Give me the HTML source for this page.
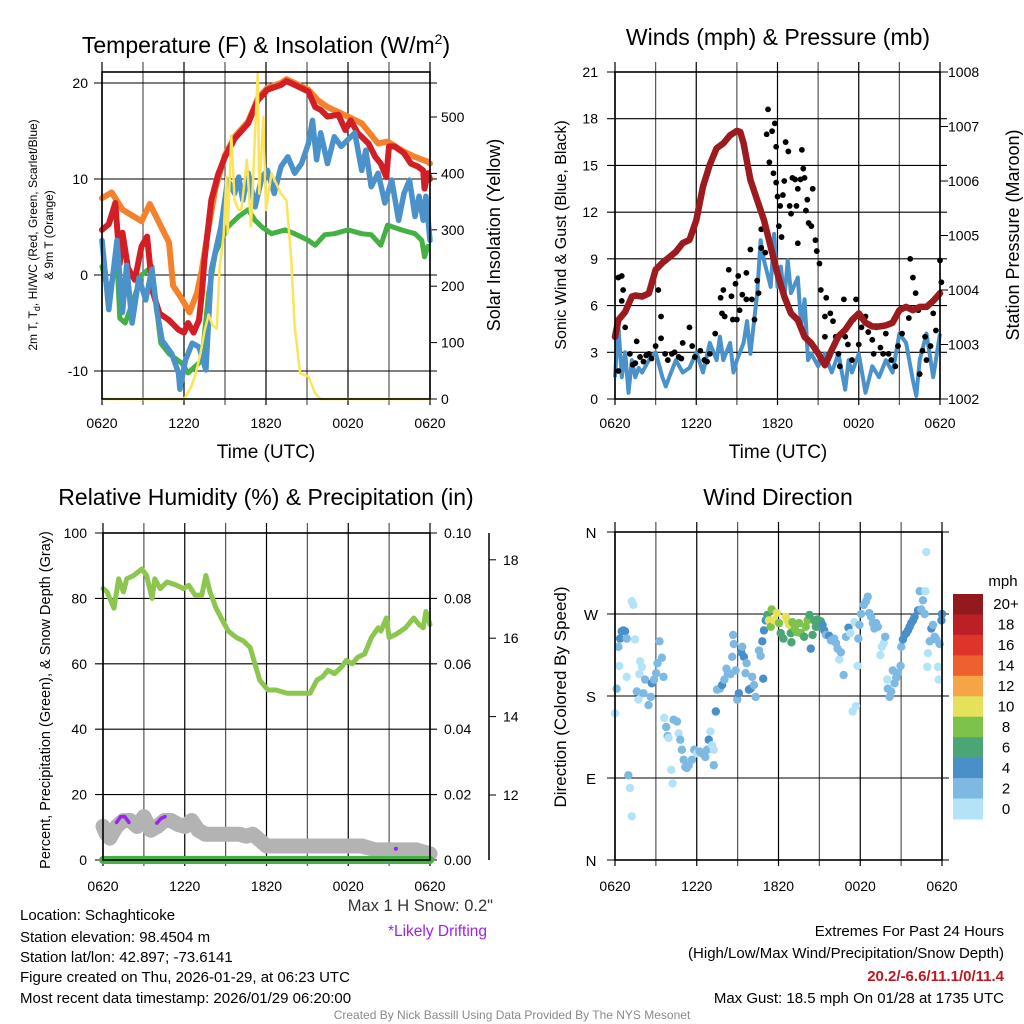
<!DOCTYPE html>
<html><head><meta charset="utf-8">
<style>
html,body{margin:0;padding:0;background:#fff;}
svg{display:block;font-family:"Liberation Sans",Arial,sans-serif;}
</style></head>
<body>
<svg id="root" width="1024" height="1024" viewBox="0 0 1024 1024" xmlns="http://www.w3.org/2000/svg">
<rect width="1024" height="1024" fill="#fff"/>
<!-- Titles -->
<text x="266" y="53" font-size="23" text-anchor="middle">Temperature (F) &amp; Insolation (W/m<tspan font-size="14" dy="-9">2</tspan><tspan dy="9">)</tspan></text>
<text x="778" y="45" font-size="23" text-anchor="middle">Winds (mph) &amp; Pressure (mb)</text>
<text x="266" y="505" font-size="23" text-anchor="middle">Relative Humidity (%) &amp; Precipitation (in)</text>
<text x="778" y="505" font-size="23" text-anchor="middle">Wind Direction</text>
<!-- axis titles -->
<text x="266" y="458" font-size="19" text-anchor="middle">Time (UTC)</text>
<text x="778" y="458" font-size="19" text-anchor="middle">Time (UTC)</text>
<text transform="translate(37,235) rotate(-90)" font-size="12" text-anchor="middle">2m T, T<tspan font-size="9" dy="3">d</tspan><tspan dy="-3">, HI/WC (Red, Green, Scarlet/Blue)</tspan></text>
<text transform="translate(53,235) rotate(-90)" font-size="12" text-anchor="middle">&amp; 9m T (Orange)</text>
<text transform="translate(500,235) rotate(-90)" font-size="18" text-anchor="middle">Solar Insolation (Yellow)</text>
<text transform="translate(566,235) rotate(-90)" font-size="16" text-anchor="middle">Sonic Wind &amp; Gust (Blue, Black)</text>
<text transform="translate(1019,235) rotate(-90)" font-size="18" text-anchor="middle">Station Pressure (Maroon)</text>
<text transform="translate(50,700) rotate(-90)" font-size="14.5" text-anchor="middle">Percent, Precipitation (Green), &amp; Snow Depth (Gray)</text>
<text transform="translate(566,697) rotate(-90)" font-size="17" text-anchor="middle">Direction (Colored By Speed)</text>
<!-- footer text -->
<g font-size="15">
<text x="20" y="920">Location: Schaghticoke</text>
<text x="20" y="942">Station elevation: 98.4504 m</text>
<text x="20" y="962">Station lat/lon: 42.897; -73.6141</text>
<text x="20" y="982">Figure created on Thu, 2026-01-29, at 06:23 UTC</text>
<text x="20" y="1003">Most recent data timestamp: 2026/01/29 06:20:00</text>
</g>
<text x="493" y="911" font-size="16.5" text-anchor="end" fill="#333">Max 1 H Snow: 0.2"</text>
<text x="487" y="936" font-size="15.5" text-anchor="end" fill="#a020f0">*Likely Drifting</text>
<g font-size="15" text-anchor="end">
<text x="1004" y="936">Extremes For Past 24 Hours</text>
<text x="1004" y="958">(High/Low/Max Wind/Precipitation/Snow Depth)</text>
<text x="1004" y="981" font-weight="bold" fill="#c0161f">20.2/-6.6/11.1/0/11.4</text>
<text x="1004" y="1003">Max Gust: 18.5 mph On 01/28 at 1735 UTC</text>
</g>
<text x="512" y="1019" font-size="12" text-anchor="middle" fill="#8a8a8a">Created By Nick Bassill Using Data Provided By The NYS Mesonet</text>
<text x="1003" y="586" font-size="15" text-anchor="middle">mph</text>
</svg>
<script>
// ---------- Panel 1 data ----------
const xTickLabels = ["0620","1220","1820","0020","0620"];
const tempTicks = [20,10,0,-10];
const solarTicks = [0,100,200,300,400,500];
const redHours = [0,0.5,0.97,1.3,1.5,1.9,2.4,2.9,3.3,3.7,4.2,4.9,5.6,6,6.3,6.7,7.1,7.3,7.5,8,8.5,9,9.7,10.7,11.4,12.1,13.1,13.5,14.1,15.1,15.6,16,16.5,17.3,17.8,18.2,18.7,19.5,20,20.4,20.8,21,21.4,22.1,22.6,23.1,23.5,23.6,23.85,24];
const redTemps = [4.7,5.3,7.5,1.2,4.4,0.7,-0.5,3.0,4.0,-1.7,-4,-4.7,-5.7,-6,-5,-6,-4.7,-2,1.6,7.8,10.5,12.3,14.2,15.8,18.2,19.3,19.8,20.2,19.8,19.1,17.5,17.2,16.5,16.7,15.1,16.1,14.8,13.7,12.3,11.6,10.2,13.4,13.4,12.7,11.6,11.3,10.9,9,10.6,10];
const orangeHours = [0,0.7,1.5,2.9,3.5,4.3,4.9,5.2,5.85,6.4,6.95,7.3,7.8,8.3,9,9.7,10.7,11.4,12.1,13.1,13.5,14.1,15.1,15.8,16.5,18,19,20.2,20.9,21.9,22.9,23.85,24];
const orangeTemps = [8,8.6,6.8,5.6,7.4,5.1,3.4,-1.1,-2.5,-3.9,-1.9,0.5,5,9,12.5,14.4,16,18.4,19.5,20,20.4,20,19.3,18.2,17.5,16.5,15.8,13.7,13.9,13,12.3,11.8,11.6];
const greenHours = [0,0.5,1.1,1.3,1.7,2.2,2.9,3.65,4,4.3,4.9,5.85,6.3,7.3,7.8,8.3,9.2,10,10.7,11.2,11.7,12.4,13.4,14.1,15.1,15.6,16.3,17,18,19,19.7,20.4,20.9,21.9,22.9,23.4,23.6,23.85];
const greenTemps = [0.9,-1.9,1.5,-4.5,-5,-3,0,0.9,-3.6,-7.1,-8.2,-9.2,-10.2,-8.9,-1.9,2.3,5,6.1,6.8,5.7,5,4.3,4.7,4.3,3.6,3.1,4.2,4.3,4.7,4.3,4.2,3.1,5.2,4.7,4.3,3.6,1.9,3];
const blueHours = [0,0.5,1.1,1.5,1.8,2.2,2.7,3.2,3.65,4,4.4,5.1,5.6,5.7,6.1,6.6,7.1,7.6,8,8.7,9.2,9.7,10,10.3,10.7,11.2,11.7,12.1,12.6,13.1,13.6,14.1,14.6,15.1,15.4,15.7,16,16.5,17,17.5,18,18.5,19,19.3,19.7,20.2,20.7,21.2,21.7,22.1,22.5,22.9,23.2,23.5,23.7,24];
const blueTemps = [3.6,-3.6,3.6,-3.9,1,-5,-0.3,-2.6,0.6,-3.6,-6.8,-8.2,-10.2,-11.9,-8.9,-7.1,-7.5,-9.9,0.5,5,9.9,8.5,10.2,7.8,10.6,7.1,10.2,10.9,8.5,11.3,12.3,10.6,11.6,13.7,16.1,12,14.8,11.6,14.4,13.4,14.1,14.8,10.9,13,9.2,10.6,7.5,9.9,5.7,8.5,9.9,6.1,8.2,5.7,8.2,3.6];
const solarHours = [0,6.0,6.5,6.8,7.2,7.5,7.8,8.1,8.4,8.6,8.9,9.1,9.2,9.46,9.7,10.0,10.2,10.6,10.9,11.4,11.5,11.8,12.0,12.4,13.1,13.5,13.85,14.1,14.5,15.1,15.6,16,24];
const solarValues = [0,0,20,40,80,120,150,130,125,230,290,394,294,467,352,335,336,424,306,580,364,500,335,400,364,352,246,128,45,40,10,0,0];
// ---------- Panel 2 data ----------
const windTicks = [0,3,6,9,12,15,18,21];
const pressTicks = [1002,1003,1004,1005,1006,1007,1008];
const pressHours = [0,0.25,0.75,1.25,1.5,2,2.5,3,3.5,4,4.5,5,5.5,6,6.5,7,7.5,8,8.5,9,9.25,9.5,10,10.5,11,11.5,12,12.5,13,13.5,14,14.5,15,15.5,15.75,16,16.5,17,17.5,18,18.5,19,19.5,20,20.5,21,21.5,22,22.5,23,23.5,24];
const pressValues = [1003.14,1003.45,1003.6,1003.88,1003.9,1003.88,1003.94,1004.37,1004.5,1004.6,1004.7,1004.86,1004.92,1005.28,1005.9,1006.3,1006.6,1006.69,1006.84,1006.92,1006.9,1006.69,1006.02,1005.65,1005.28,1004.79,1004.3,1003.88,1003.57,1003.45,1003.14,1003.02,1002.84,1002.62,1002.75,1002.9,1003.15,1003.27,1003.45,1003.57,1003.4,1003.33,1003.33,1003.35,1003.4,1003.63,1003.69,1003.63,1003.69,1003.69,1003.8,1003.94];
const sonicHours = [0,0.25,0.5,0.75,1,1.25,1.5,1.75,2,2.5,3,3.5,3.75,4,4.5,5,5.5,6,6.5,7,7.5,7.75,8,8.5,8.75,9,9.5,9.75,10,10.5,10.75,11,11.5,11.75,12,12.25,12.5,12.75,13,13.5,13.75,14,14.25,14.5,15,15.5,16,16.5,17,17.25,17.5,18,18.5,19,19.5,20,20.5,21,21.5,22,22.25,22.5,23,23.5,24];
const sonicSpeeds = [1.4,4.7,1.4,3,0.4,2.5,1.4,2,1.7,2.5,3,1.4,0.8,1.4,2.5,1.7,2,3,1.7,3.6,2.5,4,2.5,3.6,1.7,2.5,3.6,5,2.9,6.8,10.2,8.9,7.2,10.6,7.2,8.5,6.4,8.9,6.8,7.8,4.7,6.4,2.5,2.9,2.1,2.9,1.7,2.9,0.6,2.5,1.7,2.9,0.4,2.1,1.4,2.5,1.7,4.2,3.6,1.2,0.2,2.5,4.2,1.4,4.2];
const gustHours = [0.25,0.5,0.6,0.5,0.75,0.25,1.1,1.6,1.5,1.85,2.1,2.5,2.7,3.0,3.2,3.4,3.4,3.7,3.9,4.2,4.4,4.7,5.0,5.5,5.7,5.9,6.3,6.6,7.0,7.4,7.8,7.9,8.0,8.1,8.4,8.6,8.7,8.9,9.0,9.1,9.2,9.4,9.7,9.7,10.0,10.1,10.3,10.5,10.6,10.8,10.8,11.1,11.2,11.3,11.4,11.6,11.8,11.7,11.9,11.9,12.0,12.1,12.2,12.3,12.4,12.5,12.6,12.8,12.9,13.0,13.1,13.3,13.4,13.5,13.5,13.7,13.8,13.9,14.0,14.1,14.2,14.3,14.5,14.6,14.8,14.9,15.1,15.2,15.5,15.5,15.6,15.9,16.1,16.3,16.5,16.6,16.9,17.0,17.2,17.5,17.6,17.8,18.0,18.2,18.5,18.7,19.0,19.1,19.3,19.6,19.8,20.0,20.2,20.4,20.7,20.9,21.2,21.4,21.7,21.8,22.0,22.2,22.4,22.7,22.9,23.0,23.3,23.5,23.7,24.0,24.1,1.3,2.3,4.9,6.8,22.5];
const gustSpeeds = [7.8,7.9,7.0,6.3,4.6,1.8,2.9,3.7,2.3,2.7,2.4,2.9,2.6,3.4,7.0,5.3,3.9,2.9,2.5,2.9,3.0,2.7,3.6,4.6,3.4,2.7,3.1,2.5,2.9,4.2,6.5,5.5,7.0,5.3,8.3,6.6,5.1,7.4,5.1,7.9,5.7,6.7,8.1,6.4,9.6,6.4,5.1,7.6,6.8,9.7,10.9,9.4,17.0,18.6,15.2,17.2,17.7,14.5,16.2,13.9,13.0,11.1,12.4,10.4,13.1,14.0,16.5,15.9,12.4,11.9,14.2,14.1,12.4,13.5,10.0,14.1,16.0,14.8,14.2,12.1,12.8,11.3,11.1,13.5,10.2,9.5,8.7,7.0,5.3,4.0,6.5,5.5,5.0,4.0,2.9,2.1,6.4,4.0,3.5,2.5,5.1,6.4,3.5,4.6,5.3,4.3,3.8,2.9,4.6,3.3,2.9,4.2,2.9,2.5,2.1,3.4,4.2,5.9,5.2,9.0,7.8,6.8,5.7,3.1,4.0,2.5,3.4,5.5,4.4,8.9,7.5,2.2,2.8,2.6,2.4,1.6];
// ---------- Panel 3 data ----------
const rhTicks = [0,20,40,60,80,100];
const precipTicks = ["0.00","0.02","0.04","0.06","0.08","0.10"];
const snowTicks = [12,14,16,18];
const rhHours = [0,0.3,0.8,1.15,1.5,1.75,2.25,2.85,3.2,3.6,3.8,4.2,4.7,5.4,5.9,6.3,6.75,7.25,7.55,7.85,8.3,8.8,9.2,9.8,10.3,10.8,11.15,11.5,12.1,12.7,13.5,14.2,14.9,15.2,15.7,16.1,16.5,17,17.5,17.85,18.3,18.7,19.2,19.7,20.2,20.4,20.8,21,21.5,22.2,22.8,23.2,23.5,23.7,24];
const rhValues = [83,82,77,86,82,86,87,89,87,80,86,83,85,84,83,84,81,81,87,82,77,73,70,68,67,65,60,55,52,52,51,51,51,51,55,56,58,57,59,61,60,62,63,68,71,70,74,68,69,71,74,72,71,76,72];
const snowHours = [0,0.25,0.5,1,1.5,2,2.5,3,3.5,4,4.5,5,5.5,6,6.5,7,7.5,8,9,10,10.5,11,11.5,12,13,14,15,16,17,18,19,20,21,22,23,24];
const snowDepth = [11.2,11.0,10.9,11.2,11.35,11.35,11.2,11.45,11.1,11.2,11.35,11.35,11.25,11.2,11.35,11.1,11.0,11.0,11.0,11.0,10.95,11.0,10.85,10.7,10.7,10.7,10.7,10.7,10.7,10.7,10.7,10.6,10.6,10.6,10.6,10.5];
const driftHours = [[1.0,1.3,1.6,1.9],[3.95,4.25,4.55]];
const driftDepth = [[11.3,11.45,11.45,11.3],[11.28,11.4,11.45]];
const driftDotHours = [21.5];
const driftDotDepth = [10.63];
const precipHours = [0,24];
const precipValues = [0,0];
// ---------- Panel 4 data ----------
const dirTickLabels = ["N","W","S","E","N"];
const dirTickDegrees = [360,270,180,90,0];
const speedBinLabels = ["20+","18","16","14","12","10","8","6","4","2","0"];
const speedBinColors = ["#921a1c","#bd1f26","#dd3529","#ee612e","#f5a546","#e5e15a","#7cc24b","#4aa674","#4a90c8","#7eb9e3","#b4e3f8"];
const dirHours = [0,0.12,0.25,0.37,0.49,0.61,0.74,0.86,0.32,0.86,1.23,1.35,1.47,1.6,1.72,1.84,1.97,1.79,2.09,2.21,2.46,2.63,2.7,2.87,3.02,3.12,3.27,3.44,3.56,0.98,1.1,1.23,3.61,3.76,3.86,3.93,4.3,4.55,4.67,4.79,4.91,5.04,5.16,5.28,5.41,5.65,5.82,6.02,6.22,6.39,6.63,6.76,6.88,7.0,7.13,7.25,7.25,4.13,4.23,7.4,7.49,7.69,7.86,8.03,8.18,8.28,8.48,8.6,8.67,8.72,8.85,8.97,9.09,9.26,9.34,9.46,9.58,9.66,9.83,9.95,10.07,10.2,10.32,10.57,10.69,10.81,10.88,10.93,11.06,11.18,11.3,11.43,11.5,11.67,11.87,12.04,12.16,12.36,12.53,12.65,12.78,12.9,12.95,13.02,13.19,13.34,13.51,13.64,13.88,14.0,14.13,14.27,14.37,14.5,14.62,14.74,14.86,14.99,15.11,15.23,15.36,15.48,15.72,15.85,16.09,16.22,16.34,16.46,16.58,16.78,16.95,17.13,17.27,17.44,17.69,17.57,17.86,17.94,17.81,18.06,18.26,18.43,18.55,18.67,18.8,18.92,19.04,19.16,19.29,19.48,19.58,19.73,19.83,19.98,20.02,20.15,20.27,20.39,20.52,20.64,20.76,20.96,21.01,21.13,21.25,21.38,21.5,21.62,21.74,21.87,21.99,22.24,22.36,22.48,22.6,22.73,22.78,22.85,22.97,22.92,23.1,23.22,23.34,23.46,23.59,23.71,23.76,23.83,23.96,24.0];
const dirDegrees = [161,188,234,243,251,252,251,243,213,201,284,280,242,185,176,218,212,204,183,198,170,179,194,198,205,216,240,222,201,93,79,48,156,146,136,134,154,152,139,132,121,110,102,101,104,110,121,117,119,117,113,121,132,141,126,121,104,99,84,163,187,188,192,198,210,205,204,223,247,237,208,176,183,228,234,223,205,216,187,188,201,192,179,230,224,240,199,252,263,269,263,256,275,263,271,260,249,243,267,263,258,249,239,261,254,250,260,249,245,256,263,269,232,247,263,256,264,256,262,258,252,247,246,241,243,238,232,220,228,203,245,255,249,163,169,261,243,258,213,270,280,284,289,271,267,260,254,260,256,225,234,238,245,198,188,179,185,208,194,200,205,213,234,242,247,249,252,256,260,263,267,274,295,275,285,270,295,338,227,212,240,254,258,245,242,212,198,237,263,270];
const dirSpeeds = [1,3,3,5,5,5,5,3,1,1,1,1,1,3,1,1,1,1,3,3,3,3,5,3,3,3,3,3,3,3,1,1,1,3,3,1,3,3,1,3,3,3,3,3,3,3,3,1,3,3,3,3,5,1,1,1,3,1,1,5,3,3,5,3,3,3,3,3,3,3,3,3,5,5,3,5,3,3,5,5,3,3,3,3,3,5,5,5,5,7,11,9,9,11,11,9,7,7,11,11,11,7,7,9,9,9,9,9,7,9,9,7,5,7,7,7,7,7,7,5,5,3,5,3,3,3,3,1,3,3,3,5,1,1,1,1,3,3,1,3,3,3,3,3,3,3,3,3,3,1,1,1,3,1,3,3,3,3,3,3,3,3,3,5,5,5,5,5,5,5,5,5,3,3,3,3,1,1,1,1,3,5,3,3,3,1,1,3,5,5];

// ---------- helpers ----------
const NS = "http://www.w3.org/2000/svg";
const root = document.getElementById('root');
function mk(tag, attrs, parent) {
  const e = document.createElementNS(NS, tag);
  for (const k in attrs) e.setAttribute(k, attrs[k]);
  (parent || root).appendChild(e);
  return e;
}
function poly(hs, vs, xf, yf) { return hs.map((h, i) => xf(h).toFixed(1) + ',' + yf(vs[i]).toFixed(1)).join(' '); }

function frame(L, T, R, B, name) {
  const g = mk('g', {});
  
  
  for (let i = 0; i <= 8; i++) {
    const x = L + (R - L) * i / 8;
    const l = mk('line', {x1: x, y1: T - 10, x2: x, y2: B + 6, stroke: (i % 2 ? '#555' : '#000'), 'stroke-width': 1.2}, g);
    
    
  }
  return g;
}
function hgrid(L, R, y, g) {
  const l = mk('line', {x1: L - 8, y1: y, x2: R + 7, y2: y, stroke: '#000', 'stroke-width': 1.1}, g);
  
  
}
function border(L, T, R, B, name) {
  const r = mk('rect', {x: L, y: T, width: R - L, height: B - T, fill: 'none', stroke: '#000', 'stroke-width': 1.6});
  
  
}
function label(x, y, s, anchor, size, name) {
  const t = mk('text', {x: x, y: y, 'font-size': size || 14, 'text-anchor': anchor || 'middle'});
  t.textContent = s;
  
  
  return t;
}
function xTicks(L, R, y) {
  xTickLabels.forEach((s, i) => label(L + (R - L) * i / 4, y, s, 'middle', 14, 'x-tick-label'));
}

// ---------- Panel 1 ----------
{
  const L = 102, R = 430, T = 72, B = 399;
  const x = h => L + h * (R - L) / 24;
  const yT = v => 275 - v * 9.6;
  const yS = w => 399 - w * 0.564;
  const g = frame(L, T, R, B, 'temperature-panel');
  tempTicks.forEach(v => { hgrid(L, R, yT(v), g); label(88, yT(v) + 5, String(v), 'end', 14, 'temp-tick-label'); });
  solarTicks.forEach(v => {
    const tk = mk('line', {x1: R, y1: yS(v), x2: R + 7, y2: yS(v), stroke: '#000'});
    
    
    label(441, yS(v) + 5, String(v), 'start', 14, 'solar-tick-label');
  });
  const o = mk('polyline', {points: poly(orangeHours, orangeTemps, x, yT), fill: 'none', stroke: '#f5822b', 'stroke-width': 6, 'stroke-linejoin': 'round', 'stroke-linecap': 'round'});
  
  
  const gr = mk('polyline', {points: poly(greenHours, greenTemps, x, yT), fill: 'none', stroke: '#43b143', 'stroke-width': 5, 'stroke-linejoin': 'round', 'stroke-linecap': 'round'});
  
  
  const r = mk('polyline', {points: poly(redHours, redTemps, x, yT), fill: 'none', stroke: '#d21f26', 'stroke-width': 6, 'stroke-linejoin': 'round', 'stroke-linecap': 'round'});
  
  
  const b = mk('polyline', {points: poly(blueHours, blueTemps, x, yT), fill: 'none', stroke: '#4a92c9', 'stroke-width': 5.5, 'stroke-linejoin': 'round', 'stroke-linecap': 'round'});
  
  
  const y = mk('polyline', {points: poly(solarHours, solarValues, x, yS), fill: 'none', stroke: '#fbe45a', 'stroke-width': 2.5, 'stroke-linejoin': 'round'});
  
  
  border(L, T, R, B, 'temperature-panel');
  xTicks(L, R, 428);
}

// ---------- Panel 2 ----------
{
  const L = 615, R = 940, T = 72, B = 399;
  const x = h => L + h * (R - L) / 24;
  const yW = v => B - v * (B - T) / 21;
  const yP = p => B - (p - 1002) * (B - T) / 6;
  const g = frame(L, T, R, B, 'winds-panel');
  windTicks.forEach(v => { hgrid(L, R, yW(v), g); label(598, yW(v) + 5, String(v), 'end', 14, 'wind-tick-label'); });
  pressTicks.forEach(p => {
    const tk = mk('line', {x1: R, y1: yP(p), x2: R + 8, y2: yP(p), stroke: '#000'});
    
    
    label(948, yP(p) + 5, String(p), 'start', 14, 'pressure-tick-label');
  });
  const s = mk('polyline', {points: poly(sonicHours, sonicSpeeds, x, yW), fill: 'none', stroke: '#4a92c9', 'stroke-width': 4, 'stroke-linejoin': 'round'});
  
  
  const gg = mk('g', {fill: '#000'});
  
  
  gustHours.forEach((h, i) => {
    const c = mk('circle', {cx: x(h), cy: yW(gustSpeeds[i]), r: 2.9}, gg);
    
    
  });
  const p = mk('polyline', {points: poly(pressHours, pressValues, x, yP), fill: 'none', stroke: '#9b1b1e', 'stroke-width': 6.5, 'stroke-linejoin': 'round', 'stroke-linecap': 'round'});
  
  
  border(L, T, R, B, 'winds-panel');
  xTicks(L, R, 428);
}

// ---------- Panel 3 ----------
{
  const L = 103, R = 430, T = 533, B = 860;
  const x = h => L + h * (R - L) / 24;
  const yR = v => B - v * (B - T) / 100;
  const yS = s => 795 - (s - 12) * 39.2;
  const g = frame(L, T, R, B, 'humidity-panel');
  rhTicks.forEach((v, i) => {
    hgrid(L, R, yR(v), g);
    label(87, yR(v) + 5, String(v), 'end', 14, 'rh-tick-label');
    label(444, yR(v) + 5, precipTicks[i], 'start', 14, 'precip-tick-label');
  });
  const ax = mk('line', {x1: 489, y1: T, x2: 489, y2: B, stroke: '#000', 'stroke-width': 1.5});
  
  
  snowTicks.forEach(s => {
    const tk = mk('line', {x1: 489, y1: yS(s), x2: 496, y2: yS(s), stroke: '#000'});
    
    
    label(503, yS(s) + 5, String(s), 'start', 14, 'snow-tick-label');
  });
  const sd = mk('polyline', {points: poly(snowHours, snowDepth, x, yS), fill: 'none', stroke: '#b3b3b3', 'stroke-width': 15, 'stroke-linejoin': 'round', 'stroke-linecap': 'round'});
  
  
  driftHours.forEach((hs, k) => {
    const d = mk('polyline', {points: poly(hs, driftDepth[k], x, yS), fill: 'none', stroke: '#a020f0', 'stroke-width': 3.5, 'stroke-linecap': 'round', 'stroke-linejoin': 'round'});
    
    
  });
  driftDotHours.forEach((h, i) => {
    const c = mk('circle', {cx: x(h), cy: yS(driftDotDepth[i]), r: 2, fill: '#a020f0'});
    
    
  });
  const pr = mk('polyline', {points: poly(precipHours, precipValues, x, v => B - v * (B - T) / 0.1), fill: 'none', stroke: '#43b143', 'stroke-width': 8, 'stroke-linecap': 'round'});
  
  
  const rh = mk('polyline', {points: poly(rhHours, rhValues, x, yR), fill: 'none', stroke: '#8dc64f', 'stroke-width': 5, 'stroke-linejoin': 'round', 'stroke-linecap': 'round'});
  
  
  border(L, T, R, B, 'humidity-panel');
  xTicks(L, R, 891);
}

// ---------- Panel 4 ----------
{
  const L = 615, R = 942, T = 532, B = 860;
  const x = h => L + h * (R - L) / 24;
  const yD = d => B - d * (B - T) / 360;
  const g = frame(L, T, R, B, 'wind-direction-panel');
  dirTickDegrees.forEach((d, i) => { hgrid(L, R, yD(d), g); label(591, yD(d) + 6, dirTickLabels[i], 'middle', 15, 'direction-tick-label'); });
  const colorFor = s => speedBinColors[10 - Math.min(10, Math.floor(s / 2))];
  const pg = mk('g', {});
  
  
  dirHours.forEach((h, i) => {
    const c = mk('circle', {cx: x(h), cy: yD(dirDegrees[i]), r: 4.2, fill: colorFor(dirSpeeds[i])}, pg);
    
    
  });
  border(L, T, R, B, 'wind-direction-panel');
  xTicks(L, R, 891);
  // colorbar
  const cbT = 594, cbH = 225 / 11;
  speedBinLabels.forEach((s, i) => {
    const rc = mk('rect', {x: 953, y: cbT + i * cbH, width: 30, height: cbH + 0.5, fill: speedBinColors[i]});
    
    
    label(1006, cbT + i * cbH + cbH / 2 + 5, s, 'middle', 15, 'colorbar-label');
  });
}
</script>
</body></html>
